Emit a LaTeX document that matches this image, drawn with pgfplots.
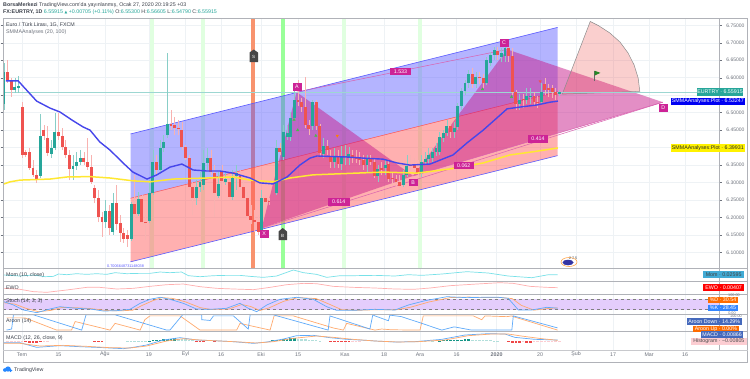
\documentclass[border=0pt]{standalone}
\usepackage{fontspec}
\setmainfont{Liberation Sans}
\usepackage{pgfplots}
\usepackage{pgfplotstable}
\pgfplotsset{compat=1.18}
\definecolor{tvup}{RGB}{38,166,154}
\definecolor{tvdn}{RGB}{239,83,80}
\definecolor{gridc}{RGB}{238,242,245}
\definecolor{framec}{RGB}{176,178,184}
\definecolor{labc}{RGB}{110,115,125}
\definecolor{darkc}{RGB}{60,65,75}
\definecolor{chblue}{RGB}{90,90,255}
\definecolor{chred}{RGB}{255,82,82}
\definecolor{patt}{RGB}{200,30,140}
\definecolor{tagp}{RGB}{205,35,150}
\definecolor{sma1}{RGB}{70,70,235}
\definecolor{sma2}{RGB}{255,232,50}
\definecolor{cmom}{RGB}{120,225,232}
\definecolor{cewo}{RGB}{255,175,175}
\definecolor{cblue}{RGB}{95,170,250}
\definecolor{corng}{RGB}{255,170,110}
\definecolor{cband}{RGB}{228,205,252}
\definecolor{hred}{RGB}{239,70,70}
\definecolor{hpink}{RGB}{252,205,210}
\definecolor{hteal}{RGB}{20,150,135}
\definecolor{hlt}{RGB}{178,223,219}

\pgfplotstableread{
i o h l c
0 6.525 6.642 6.508 6.616
3 6.565 6.599 6.556 6.574
4 6.571 6.605 6.556 6.577
10 6.319 6.496 6.313 6.433
13 6.382 6.422 6.370 6.399
14 6.399 6.499 6.393 6.445
19 6.339 6.379 6.307 6.348
20 6.348 6.388 6.336 6.359
21 6.359 6.393 6.350 6.370
28 6.187 6.250 6.170 6.218
30 6.159 6.270 6.150 6.241
35 6.139 6.244 6.133 6.239
37 6.210 6.273 6.204 6.253
40 6.190 6.307 6.184 6.270
41 6.270 6.393 6.264 6.359
43 6.336 6.422 6.330 6.399
44 6.399 6.436 6.388 6.416
45 6.436 6.671 6.428 6.468
53 6.256 6.307 6.236 6.287
54 6.287 6.330 6.273 6.302
55 6.293 6.393 6.279 6.356
56 6.356 6.399 6.336 6.370
59 6.261 6.330 6.256 6.296
61 6.302 6.330 6.293 6.310
63 6.259 6.336 6.250 6.316
64 6.319 6.350 6.279 6.328
71 6.159 6.279 6.153 6.256
75 6.270 6.422 6.264 6.399
77 6.373 6.465 6.365 6.445
78 6.430 6.465 6.422 6.442
79 6.430 6.502 6.419 6.485
80 6.485 6.579 6.479 6.536
85 6.462 6.536 6.450 6.530
88 6.382 6.428 6.370 6.405
91 6.359 6.399 6.342 6.373
93 6.353 6.405 6.336 6.373
94 6.373 6.407 6.350 6.376
95 6.370 6.402 6.350 6.382
100 6.350 6.379 6.330 6.367
103 6.319 6.350 6.302 6.339
105 6.342 6.365 6.322 6.350
110 6.293 6.336 6.287 6.322
111 6.322 6.379 6.316 6.348
115 6.330 6.379 6.316 6.359
116 6.359 6.388 6.350 6.367
117 6.367 6.399 6.350 6.379
118 6.370 6.399 6.359 6.388
119 6.388 6.413 6.376 6.399
120 6.388 6.445 6.379 6.430
121 6.428 6.450 6.416 6.442
122 6.442 6.479 6.433 6.462
124 6.445 6.473 6.428 6.456
125 6.459 6.528 6.450 6.519
126 6.519 6.571 6.508 6.562
127 6.562 6.593 6.550 6.585
128 6.585 6.622 6.571 6.611
130 6.582 6.616 6.571 6.602
133 6.585 6.659 6.579 6.651
134 6.642 6.674 6.633 6.665
135 6.665 6.688 6.651 6.679
137 6.659 6.685 6.645 6.671
138 6.662 6.696 6.645 6.685
142 6.525 6.553 6.508 6.536
144 6.536 6.571 6.525 6.548
145 6.545 6.571 6.525 6.548
148 6.530 6.585 6.525 6.559
153 6.553 6.566 6.548 6.559
}\upc

\pgfplotstableread{
i o h l c
1 6.616 6.651 6.585 6.593
2 6.593 6.599 6.545 6.565
5 6.516 6.531 6.370 6.379
6 6.388 6.393 6.373 6.379
7 6.388 6.399 6.336 6.342
8 6.342 6.365 6.316 6.322
9 6.322 6.336 6.299 6.307
11 6.450 6.465 6.422 6.433
12 6.428 6.462 6.376 6.385
15 6.445 6.499 6.422 6.433
16 6.433 6.456 6.393 6.402
17 6.402 6.422 6.370 6.379
18 6.379 6.393 6.307 6.339
22 6.370 6.388 6.350 6.359
23 6.359 6.428 6.336 6.345
24 6.345 6.379 6.296 6.302
25 6.285 6.293 6.241 6.256
26 6.256 6.279 6.187 6.202
27 6.202 6.216 6.145 6.187
29 6.218 6.236 6.150 6.170
31 6.241 6.293 6.164 6.181
32 6.184 6.207 6.130 6.156
33 6.156 6.170 6.127 6.139
34 6.150 6.164 6.116 6.139
36 6.239 6.322 6.199 6.210
38 6.253 6.264 6.181 6.187
39 6.187 6.207 6.136 6.184
42 6.359 6.379 6.322 6.336
46 6.468 6.508 6.450 6.462
47 6.465 6.488 6.436 6.456
48 6.456 6.479 6.436 6.453
49 6.450 6.473 6.393 6.402
50 6.402 6.407 6.365 6.370
51 6.370 6.379 6.279 6.287
52 6.287 6.302 6.207 6.256
57 6.370 6.393 6.322 6.330
58 6.327 6.350 6.202 6.270
60 6.330 6.350 6.279 6.305
62 6.302 6.322 6.250 6.259
65 6.319 6.336 6.279 6.287
66 6.287 6.307 6.250 6.256
67 6.256 6.273 6.199 6.204
68 6.204 6.236 6.181 6.193
69 6.193 6.221 6.159 6.187
70 6.187 6.207 6.150 6.159
72 6.256 6.264 6.221 6.244
73 6.247 6.256 6.236 6.244
76 6.399 6.413 6.379 6.388
81 6.536 6.593 6.519 6.530
82 6.530 6.542 6.502 6.516
83 6.516 6.602 6.456 6.465
84 6.465 6.479 6.436 6.453
86 6.530 6.536 6.450 6.462
87 6.462 6.468 6.376 6.385
89 6.405 6.422 6.379 6.393
90 6.376 6.393 6.342 6.359
92 6.373 6.393 6.342 6.353
96 6.379 6.393 6.356 6.370
97 6.373 6.393 6.356 6.367
98 6.370 6.388 6.350 6.365
99 6.365 6.379 6.336 6.350
101 6.367 6.379 6.350 6.359
102 6.359 6.370 6.313 6.319
104 6.342 6.359 6.322 6.336
106 6.353 6.365 6.302 6.310
107 6.313 6.330 6.293 6.310
108 6.310 6.322 6.290 6.302
109 6.302 6.322 6.285 6.290
112 6.350 6.379 6.336 6.348
113 6.350 6.370 6.330 6.342
114 6.342 6.365 6.313 6.327
123 6.462 6.473 6.428 6.445
129 6.611 6.628 6.571 6.582
131 6.602 6.616 6.582 6.599
132 6.599 6.611 6.571 6.585
136 6.676 6.688 6.651 6.665
139 6.685 6.696 6.645 6.662
140 6.662 6.685 6.550 6.559
141 6.559 6.565 6.508 6.525
143 6.539 6.553 6.513 6.536
146 6.548 6.559 6.519 6.530
147 6.530 6.548 6.513 6.528
149 6.582 6.599 6.550 6.565
150 6.571 6.582 6.545 6.565
151 6.571 6.579 6.542 6.559
152 6.559 6.571 6.536 6.550
}\dnc

\def\xt{4.96,15,27.8,39.9,50,59.8,70.8,81,93.9,104.7,114.6,124.7,135.7,147.7,157.6,167.8,177.7,187.6}
\def\fs{\fontsize{5.3}{6}\selectfont}
\pgfplotsset{
  panel/.style={scale only axis,width=716.3pt,xmin=-0.2755,xmax=197.05,
    axis line style={draw=none},xtick=\xt,xticklabels={},ytick=\empty,
    x tick style={draw=none},xmajorgrids,grid style={draw=gridc,line width=.5pt},clip=true},
}
\newcommand\tvtag[7]{\fill[#5] (#1pt,-#2pt) rectangle (#3pt,-#4pt);
  \node[text=#6,font=\fs,inner sep=0pt,anchor=center] at ({(#1+#3)/2*1pt},{-(#2+#4)/2*1pt}) {#7};}

\begin{document}
\begin{tikzpicture}[x=1pt,y=1pt]
\path[use as bounding box] (0,0) rectangle (750pt,-378pt);
\fill[white] (0,0) rectangle (750pt,-378pt);

\begin{axis}[panel,at={(3pt,-18.5pt)},anchor=north west,height=249.5pt,
  ymin=6.0554,ymax=6.7695,ymajorgrids,
  ytick={6.10,6.15,6.20,6.25,6.30,6.35,6.45,6.50,6.60,6.65,6.70,6.75},
  extra y ticks={6.40,6.55},extra y tick labels={},
  yticklabel pos=right,y tick style={draw=labc,line width=.4pt},tick align=outside,major tick length=2.5pt,
  yticklabel style={font=\fontsize{5}{6}\selectfont,text=labc,xshift=1pt,
    /pgf/number format/.cd,fixed,fixed zerofill,precision=5,assume math mode=true}]
\addplot[line width=4pt,draw=tvdn!60!orange!70] coordinates {(68.6,6.0554) (68.6,6.7695)};
\addplot[line width=4pt,draw=green!12] coordinates {(40.7,6.0554) (40.7,6.7695)};
\addplot[line width=4pt,draw=green!12] coordinates {(54.7,6.0554) (54.7,6.7695)};
\addplot[line width=4pt,draw=green!40] coordinates {(76.8,6.0554) (76.8,6.7695)};
\addplot[line width=4pt,draw=green!12] coordinates {(93.7,6.0554) (93.7,6.7695)};
\addplot[line width=4pt,draw=green!12] coordinates {(114.6,6.0554) (114.6,6.7695)};
\addplot[draw=none,fill=chblue,fill opacity=.45] coordinates {(34.85,6.439) (152.5,6.744) (152.5,6.560) (34.85,6.255)} -- cycle;
\addplot[draw=none,fill=chred,fill opacity=.45] coordinates {(34.85,6.255) (152.5,6.560) (152.5,6.377) (34.85,6.073)} -- cycle;
\addplot[draw=chblue,line width=.6pt] coordinates {(34.85,6.439) (152.5,6.744)};
\addplot[draw=chblue,line width=.6pt] coordinates {(34.85,6.073) (152.5,6.377)};
\addplot[draw=chred,line width=.5pt] coordinates {(34.85,6.255) (152.5,6.560)};
\addplot[draw=none,fill=patt,fill opacity=.5] coordinates {(71.0,6.170) (80.6,6.559) (112.7,6.319)} -- cycle;
\addplot[draw=none,fill=patt,fill opacity=.5] coordinates {(112.7,6.319) (138.6,6.681) (181.5,6.530)} -- cycle;
\addplot[draw=patt!70,line width=.5pt] coordinates {(80.6,6.559) (138.6,6.681)};
\addplot[draw=patt!70,line width=.5pt] coordinates {(71.0,6.170) (181.5,6.530)};
\addplot[draw=patt!70,line width=.5pt] coordinates {(112.7,6.319) (181.5,6.530)};
\addplot[draw=black!45,line width=.5pt,fill=tvdn,fill opacity=.28] coordinates {(153.8,6.553) (175.15,6.561) (174.7,6.599) (173.6,6.636) (171.9,6.671) (169.7,6.702) (166.9,6.728) (163.8,6.749) (161.5,6.761)} -- cycle;
\addplot[draw=black!60,line width=.5pt] coordinates {(162.7,6.590) (162.7,6.620)};
\addplot[draw=none,fill=green!45!black!85] coordinates {(162.7,6.620) (164.3,6.614) (162.7,6.606)} -- cycle;
\addplot[draw=tvup!45,line width=.4pt] coordinates {(-0.27,6.55915) (197,6.55915)};
% candles: wicks and bodies
\addplot[draw=tvup!55,line width=.6pt,mark=none,quiver={u=0,v=\thisrow{h}-\thisrow{l}}] table[x=i,y=l] {\upc};
\addplot[draw=tvdn!45,line width=.6pt,mark=none,quiver={u=0,v=\thisrow{h}-\thisrow{l}}] table[x=i,y=l] {\dnc};
\addplot[draw=tvup,line width=2.9pt,mark=none,quiver={u=0,v=\thisrow{c}-\thisrow{o}}] table[x=i,y=o] {\upc};
\addplot[draw=tvdn,line width=2.9pt,mark=none,quiver={u=0,v=\thisrow{o}-\thisrow{c}}] table[x=i,y=c] {\dnc};
\addplot[draw=sma2,line width=1.5pt] coordinates {(0,6.296) (1.65,6.302) (4.4,6.307) (12.7,6.310) (17.4,6.316) (23.7,6.317) (29.2,6.313) (35.5,6.305) (40.2,6.302) (46.6,6.310) (55.9,6.313) (63.1,6.316) (67.8,6.307) (74.1,6.302) (78.8,6.313) (85.1,6.322) (104.4,6.330) (113.8,6.327) (122.9,6.339) (132,6.356) (139.4,6.379) (145.7,6.388) (152.6,6.399)};
\addplot[draw=sma1,line width=1.4pt] coordinates {(0.5,6.591) (3.9,6.591) (9,6.533) (12.7,6.513) (15.4,6.502) (18.7,6.479) (21.8,6.459) (23.7,6.450) (26.4,6.416) (29.2,6.393) (32.8,6.356) (35.5,6.330) (39.4,6.310) (42.1,6.322) (45.7,6.344) (49,6.353) (52.1,6.336) (55.9,6.333) (59.5,6.333) (63.1,6.327) (67.8,6.313) (70.5,6.299) (74.1,6.296) (78,6.316) (81.5,6.350) (84.3,6.370) (86.2,6.376) (94.5,6.373) (98.9,6.370) (104.4,6.367) (108.3,6.356) (111.8,6.350) (117.4,6.353) (123.7,6.379) (127.5,6.413) (132,6.450) (135.8,6.485) (138.6,6.511) (142.1,6.516) (146.8,6.522) (150.4,6.530) (152.6,6.533)};
\addplot[only marks,mark=triangle*,mark size=1.4pt,color=green!60!black!70] coordinates {(79.9,6.480) (80.9,6.450) (85.9,6.434) (131.8,6.567) (139.8,6.545)};
\addplot[only marks,mark=triangle*,mark size=1.4pt,mark options={rotate=180},color=orange] coordinates {(91.8,6.434)};
\addplot[only marks,mark=triangle*,mark size=1.4pt,mark options={rotate=180},color=tvdn] coordinates {(147.7,6.590)};
\end{axis}

\begin{axis}[panel,at={(3pt,-268pt)},anchor=north west,height=13.7pt,ymin=-0.226,ymax=0.266]
\addplot[draw=cmom,line width=.7pt] coordinates {(0,0.014) (4.4,-0.022) (8.1,0.014) (11.3,-0.046) (13.6,-0.034) (15,0.05) (17.3,0.026) (20,0.062) (22.8,0.038) (25.5,0.062) (28.3,0.038) (30.6,0.098) (33.8,0.062) (37.5,0.074) (40.2,0.074) (43,0.122) (45.7,0.098) (48.9,0.122) (50.8,-0.01) (54,-0.046) (57.7,-0.01) (61.3,0.002) (65,0.002) (67.8,-0.034) (71.4,-0.07) (75.1,-0.022) (79.7,0.194) (82.5,0.098) (86.1,0.038) (88.9,-0.07) (92.6,-0.01) (96.2,-0.01) (102.2,0.002) (107.7,-0.022) (111.4,0.026) (115.1,0.002) (120.6,0.05) (127.5,0.134) (133.4,0.086) (138.9,-0.022) (145.4,-0.082) (150,0.026) (152.5,0.026)};
\end{axis}
\begin{axis}[panel,at={(3pt,-281.7pt)},anchor=north west,height=12.6pt,ymin=-0.196,ymax=0.184]
\addplot[draw=cewo,line width=.7pt] coordinates {(0,-0.016) (4.4,-0.046) (8.1,-0.116) (11.8,-0.136) (17.3,-0.066) (22.8,0.014) (26.4,0.014) (31,-0.036) (35.6,-0.016) (40.2,0.044) (44.8,0.094) (49.4,0.114) (54,0.034) (58.6,-0.016) (63.2,-0.036) (68.7,-0.056) (73.3,0.014) (77.9,0.094) (82.5,0.134) (86.1,0.124) (90.7,0.044) (96.2,0.014) (102.2,-0.006) (107.7,-0.036) (112.8,-0.046) (117.4,-0.006) (122.9,0.064) (130.2,0.114) (136.6,0.154) (140.3,0.134) (144.9,0.044) (149.5,0.014) (152.5,0.004)};
\end{axis}
\begin{axis}[panel,at={(3pt,-294.3pt)},anchor=north west,height=20pt,ymin=-7,ymax=108.9]
\addplot[draw=none,fill=cband] coordinates {(-0.27,20) (197,20) (197,80) (-0.27,80)} -- cycle;
\addplot[draw=black!50,line width=.35pt,dashed] coordinates {(-0.27,80) (197,80)};
\addplot[draw=black!50,line width=.35pt,dashed] coordinates {(-0.27,20) (197,20)};
\addplot[draw=corng,line width=.7pt] coordinates {(0,60) (3,52) (6,28) (9.5,8) (13,16) (16,33) (20,31) (24,26) (28,15) (32,13) (35.5,17) (38,44) (41,72) (43.5,90) (46.5,85) (50,65) (54,32) (57,21) (62,24) (65.5,50) (68,38) (70.5,15) (73,30) (77,68) (81,90) (86,84) (90,48) (93,20) (97,16) (103,20) (108,19) (112,34) (117,64) (123,90) (128,93) (133,90) (137,90) (140,84) (142.5,45) (146,17) (150,27) (152.5,30.5)};
\addplot[draw=cblue,line width=.7pt] coordinates {(0,66) (2.6,47) (5.3,18) (9,2.5) (12.7,23.8) (15.4,37) (20,27.7) (23.7,23.8) (27.4,12) (31,14) (34.7,21.9) (37.5,56.7) (40.2,79.9) (43,91.5) (45.7,79.9) (49.4,56.7) (53,23.8) (56.8,21.9) (61.3,27.7) (65,56.7) (67.3,27.7) (69.6,8.3) (72.4,47) (76,79.9) (80.6,91.5) (85.2,79.9) (88.9,37) (91.6,16) (96.2,16) (102.2,21.9) (107.7,18) (111.4,47) (116,72) (122,95) (127.5,89.6) (132,91.5) (136.2,91.5) (138.9,85.7) (141.7,18) (145.4,18) (149.5,33.5) (152.5,28.5)};
\end{axis}
\begin{axis}[panel,at={(3pt,-314.3pt)},anchor=north west,height=16.7pt,ymin=-6,ymax=103.4]
\addplot[draw=corng,line width=.7pt] coordinates {(0.7,80) (5.8,80) (14.5,0) (18.6,0) (19.6,56) (29.2,0) (30.6,44) (37.5,0) (38.8,68) (40.2,93) (48.5,93) (54,0) (64.1,0) (65,44) (73.3,0) (74.4,93) (79.7,93) (90.7,14) (93.5,0) (94.4,44) (102.2,0) (104,7) (106.8,2) (114.6,0) (115.5,93) (129.3,93) (131.6,68) (132.5,93) (138.5,88) (139.9,93) (140.3,88) (152.5,0)};
\addplot[draw=cblue,line width=.7pt] coordinates {(0.7,0) (2.1,7) (2.6,100) (8.1,100) (21.4,0) (22.6,100) (30.6,100) (44.8,0) (45.7,0) (49.2,100) (54.5,100) (54.5,68) (56.8,63) (57.7,93) (63.2,93) (67.3,7) (67.8,100) (74.2,100) (89.3,0) (89.8,93) (100.8,7) (101.6,100) (102.2,93) (105.9,61) (106.3,98) (109.5,88) (115.1,44) (120.6,0) (123.8,20) (124.3,20) (128.8,0) (139.9,0) (140.3,93) (152.5,14.3)};
\end{axis}
\begin{axis}[panel,at={(3pt,-331pt)},anchor=north west,height=19pt,ymin=-0.054,ymax=0.06,
  xticklabels={Tem,15,Ağu,19,Eyl,16,Eki,15,Kas,18,Ara,16,\textbf{2020},20,Şub,17,Mar,16},
  xticklabel style={font=\fs,text=labc,inner sep=0pt,yshift=-4.5pt,anchor=center}]
\addplot[ycomb,draw=hred,line width=2.6pt] coordinates {(6,-.006) (7,-.012) (8,-.014) (9,-.012) (10,-.008) (25,-.004) (26,-.004) (27,-.004) (53,-.003) (54,-.003) (55,-.003) (58,-.004) (90,-.002) (91,-.006) (92,-.008) (93,-.008) (94,-.006) (95,-.004) (139,-.008) (140,-.012) (141,-.012) (142,-.012) (144,-.012) (145,-.012)};
\addplot[ycomb,draw=hpink,line width=2.6pt] coordinates {(1,-.002) (2,-.002) (3,-.003) (4,-.004) (5,-.004) (11,-.004) (12,-.002) (96,-.002) (97,-.002) (98,-.001) (143,-.008) (146,-.008) (147,-.008) (148,-.007) (149,-.006) (150,-.006) (151,-.006) (152,-.007) (153,-.008)};
\addplot[ycomb,draw=hteal,line width=2.6pt] coordinates {(40,.002) (41,.004) (42,.006) (43,.008) (44,.01) (45,.012) (46,.014) (47,.016) (74,.004) (75,.006) (76,.008) (77,.012) (78,.014) (79,.016) (80,.016) (120,.002) (121,.004) (122,.004) (123,.006) (124,.006) (125,.008) (126,.008) (127,.01) (128,.01)};
\addplot[ycomb,draw=hlt,line width=2.6pt] coordinates {(34,.002) (35,.002) (36,.002) (37,.002) (38,.002) (39,.002) (48,.014) (49,.012) (50,.01) (51,.006) (52,.004) (81,.014) (82,.012) (83,.01) (84,.008) (85,.006) (86,.004) (87,.002) (114,.002) (116,.002) (118,.002) (129,.008) (130,.008) (131,.007) (132,.006) (133,.005) (134,.004) (135,.003) (136,.002)};
\addplot[draw=cblue,line width=.7pt] coordinates {(0,-0.01) (4.4,-0.01) (9,-0.038) (15.4,-0.028) (20.9,-0.034) (27.4,-0.04) (32.9,-0.046) (35.6,-0.038) (39.3,-0.024) (43.9,0.006) (48.5,0.02) (53.1,0.006) (57.7,0.002) (63.2,-0.004) (68.7,-0.014) (72.4,-0.006) (77,0.012) (80.6,0.032) (85.2,0.034) (89.8,0.02) (94.4,0.01) (99.9,0.004) (102.2,0) (107.7,-0.006) (113.2,-0.004) (120.6,0.01) (127,0.036) (133.4,0.044) (138,0.042) (140.7,0.022) (146.2,0.01) (152.5,0.006)};
\addplot[draw=corng,line width=.7pt] coordinates {(0,-0.014) (4.4,-0.014) (9.9,-0.03) (16.3,-0.026) (22.8,-0.032) (29.2,-0.04) (34.7,-0.042) (39.3,-0.03) (44.8,0) (49.4,0.014) (54,0.006) (59.5,0) (65,-0.006) (69.6,-0.012) (74.2,-0.004) (79.7,0.016) (86.1,0.03) (90.7,0.022) (96.2,0.01) (102.2,0) (108.6,-0.006) (114.1,-0.004) (121.5,0.006) (127.9,0.032) (134.3,0.042) (138.9,0.042) (142.5,0.03) (148.1,0.014) (152.5,0.004)};
\end{axis}

\draw[framec,line width=.9pt] (3pt,-18.5pt) rectangle (747.7pt,-362.3pt);
\foreach \yy in {268,281.7,294.3,314.3,331}{\draw[framec,line width=.8pt] (3pt,-\yy pt) -- (747.7pt,-\yy pt);}
\draw[framec!70,line width=.4pt] (3pt,-350pt) -- (747.7pt,-350pt);
\draw[framec,line width=.8pt] (719.3pt,-18.5pt) -- (719.3pt,-350pt);

\node[anchor=west,inner sep=0pt,font=\fs,text=darkc] at (3pt,-5.5pt) {\textbf{BorsaMerkezi} TradingView.com'da yayınlanmış, Ocak 27, 2020 20:19:25 +03};
\node[anchor=west,inner sep=0pt,font=\fs,text=darkc] at (3pt,-12.3pt) {\textbf{FX:EURTRY, 1D} \textcolor{tvup}{6.55915 {\fontspec{DejaVu Sans}\fontsize{3.6}{4}\selectfont ▲} +0.00705 (+0.11\%)} O:\textcolor{tvup}{6.55300} H:\textcolor{tvup}{6.56605} L:\textcolor{tvup}{6.54790} C:\textcolor{tvup}{6.55915}};
\node[anchor=west,inner sep=0pt,font=\fs,text=darkc] at (6pt,-25pt) {Euro / Türk Lirası, 1G, FXCM};
\node[anchor=west,inner sep=0pt,font=\fs,text=labc] at (6pt,-32.5pt) {SMMAAnalyses (20, 100)};
\node[anchor=west,inner sep=0pt,font=\fontsize{3.8}{4}\selectfont,text=chblue] at (107pt,-266.3pt) {0.7006648731148038};

\node[anchor=west,inner sep=0pt,font=\fs,text=darkc] at (6pt,-275pt) {Mom (10, close)};
\node[anchor=west,inner sep=0pt,font=\fs,text=darkc] at (6pt,-288pt) {EWO};
\node[anchor=west,inner sep=0pt,font=\fs,text=darkc] at (6pt,-301pt) {Stoch (14, 3, 3)};
\node[anchor=west,inner sep=0pt,font=\fs,text=darkc] at (6pt,-321.5pt) {Aroon (14)};
\node[anchor=west,inner sep=0pt,font=\fs,text=darkc] at (6pt,-338pt) {MACD (12, 26, close, 9)};

\tvtag{292.5}{83}{301.5}{91}{tagp}{white}{A}
\tvtag{409}{178.5}{417.5}{186}{tagp}{white}{B}
\tvtag{499.5}{39}{508.5}{46.5}{tagp}{white}{C}
\tvtag{658.5}{104}{668}{112}{tagp}{white}{D}
\tvtag{259.5}{230}{269}{238}{tagp}{white}{X}
\tvtag{390}{67.5}{411}{75}{tagp}{white}{1.533}
\tvtag{328}{198}{349.5}{205.5}{tagp}{white}{0.614}
\tvtag{453.5}{161.5}{474}{169}{tagp}{white}{0.062}
\tvtag{528}{135}{548}{142.5}{tagp}{white}{0.414}

\fill[black!72] (249.5pt,-52.5pt) -- (253.7pt,-49.5pt) -- (258pt,-52.5pt) -- (258pt,-62pt) -- (249.5pt,-62pt) -- cycle;
\node[text=white,font=\fontsize{4.5}{5}\selectfont,inner sep=0pt] at (253.7pt,-57pt) {S};
\fill[black!72] (278.5pt,-231.5pt) -- (282.7pt,-228pt) -- (287pt,-231.5pt) -- (287pt,-240pt) -- (278.5pt,-240pt) -- cycle;
\node[text=white,font=\fontsize{4.5}{5}\selectfont,inner sep=0pt] at (282.7pt,-235.5pt) {B};

\fill[white] (569pt,-262pt) ellipse (8pt and 4.5pt);
\draw[orange!70,line width=.6pt] (569pt,-262pt) ellipse (8pt and 4.5pt);
\fill[blue!55!black!80] (568pt,-262.5pt) ellipse (5.5pt and 2.8pt);
\node[font=\fontsize{3.6}{4}\selectfont,text=darkc,inner sep=0pt] at (573pt,-258.5pt) {2 7 5};

\tvtag{696.7}{88.3}{743.3}{95.7}{tvup}{white}{EURTRY · 6.55915}
\tvtag{671}{97.7}{744.7}{105}{blue!95!black}{white}{SMMAAnalyses:Plot · 6.53247}
\tvtag{671}{144.3}{744.7}{151.7}{yellow}{black!85}{SMMAAnalyses:Plot · 6.39931}
\tvtag{703}{271.3}{744.3}{278}{cyan!65!teal!85}{black!75}{Mom · 0.02595}
\tvtag{703}{284.3}{744.3}{291}{red}{white}{EWO · 0.00407}
\tvtag{707.7}{296.7}{738.3}{303.3}{orange!85!red}{white}{\%D · 30.54}
\tvtag{707.7}{304.7}{738.3}{311.3}{blue!60!cyan!80}{white}{\%K · 28.45}
\tvtag{686.7}{318.3}{741.7}{325}{cyan!30!blue!80}{white}{Aroon Down · 14.29\%}
\tvtag{693}{326}{739}{332}{orange!85!red}{white}{Aroon Up · 0.00\%}
\tvtag{701}{331.3}{743.3}{337.7}{cyan!30!blue!80}{white}{MACD · 0.00866}
\tvtag{691}{338.2}{746.7}{344.7}{hpink}{black!70}{Histogram · −0.00805}

\node[font=\fontsize{3.8}{4}\selectfont,text=labc,inner sep=0pt] at (734pt,-295.5pt) {100.00};
\node[font=\fontsize{3.8}{4}\selectfont,text=labc,inner sep=0pt] at (732pt,-313pt) {0.00};
\node[font=\fontsize{3.8}{4}\selectfont,text=labc,inner sep=0pt] at (736pt,-315.8pt) {100.00};

\fill[blue!55!cyan!85] (5pt,-370pt) ellipse (2pt and 1.8pt) (8pt,-369pt) ellipse (2.8pt and 2.6pt) (10.5pt,-370.5pt) ellipse (1.8pt and 1.6pt);
\node[anchor=west,inner sep=0pt,font=\fs,text=darkc] at (14pt,-370pt) {TradingView};
\end{tikzpicture}
\end{document}
